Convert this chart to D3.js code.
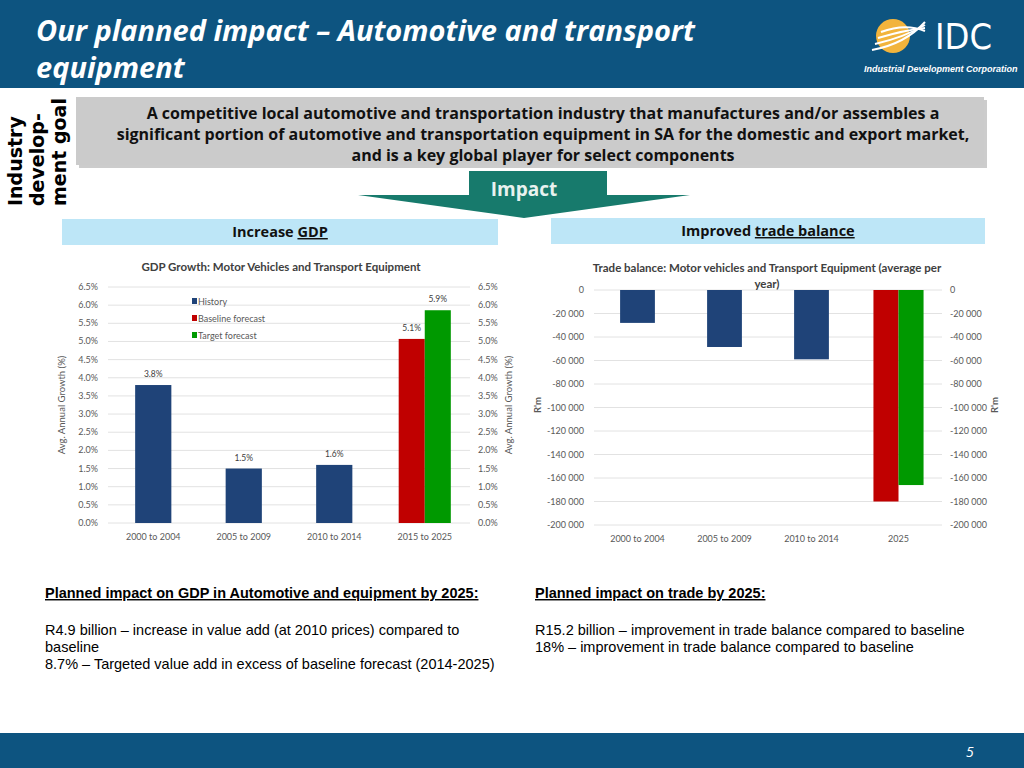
<!DOCTYPE html>
<html><head><meta charset="utf-8">
<script src="https://cdn.jsdelivr.net/npm/d3@7"></script>
<style>body{margin:0;background:#fff}svg{display:block}</style>
</head><body>
<svg id="c" width="1024" height="768"></svg>
<script>
// GDP chart data
const gdpCats = ["2000 to 2004", "2005 to 2009", "2010 to 2014", "2015 to 2025"];
const gdpHistory = [3.8, 1.5, 1.6, null];
const gdpBaseline = [null, null, null, 5.07];
const gdpTarget = [null, null, null, 5.86];
const gdpLabels = ["3.8%", "1.5%", "1.6%", "5.1%", "5.9%"];
const gdpTicks = d3.range(0, 6.51, 0.5);

// trade balance data (R'm)
const tradeCats = ["2000 to 2004", "2005 to 2009", "2010 to 2014", "2025"];
const tradeHistory = [-28000, -48500, -59000, null];
const tradeBaseline = [null, null, null, -180000];
const tradeTarget = [null, null, null, -166000];
const tradeTicks = d3.range(0, -200001, -20000);

const legendNames = ["History", "Baseline forecast", "Target forecast"];
const colors = ["#1f4378", "#c00000", "#009900"];

const svg = d3.select("#c");
const font = "Lato, 'Open Sans', sans-serif";

// header
svg.append("rect").attr("width", 1024).attr("height", 88).attr("fill", "#0d5480");
svg.append("text").attr("x", 36).attr("y", 41).attr("fill", "#fff")
  .style("font", "italic bold 29px 'Open Sans', sans-serif").text("Our planned impact – Automotive and transport");
svg.append("text").attr("x", 36).attr("y", 78).attr("fill", "#fff")
  .style("font", "italic bold 29px 'Open Sans', sans-serif").text("equipment");
// logo
svg.append("circle").attr("cx", 893).attr("cy", 36).attr("r", 17).attr("fill", "#f2b43c");
for (let i = 0; i < 4; i++) {
  svg.append("path").attr("d", `M${872+i*3},${50-i*6} Q${905},${44-i*7} ${925},${22+i*3}`)
    .attr("fill", "none").attr("stroke", "#fff").attr("stroke-width", 2);
}
svg.append("text").attr("x", 935).attr("y", 49).attr("fill", "#fff")
  .style("font", "36px 'Liberation Sans Narrow', 'DejaVu Sans Condensed', sans-serif").text("IDC");
svg.append("text").attr("x", 864).attr("y", 72).attr("fill", "#fff")
  .style("font", "italic bold 9px 'Liberation Sans Narrow', sans-serif").text("Industrial Development Corporation");

// footer
svg.append("rect").attr("y", 733).attr("width", 1024).attr("height", 35).attr("fill", "#0d5480");
svg.append("text").attr("x", 966).attr("y", 757).attr("fill", "#fff")
  .style("font", "italic 14px 'Open Sans', sans-serif").text("5");

// goal box
svg.append("rect").attr("x", 79).attr("y", 100).attr("width", 908).attr("height", 68).attr("fill", "#999").attr("opacity", 0.5);
svg.append("rect").attr("x", 76).attr("y", 97).attr("width", 908).attr("height", 68).attr("fill", "#cbcbcb");
const goal = ["A competitive local automotive and transportation industry that manufactures and/or assembles a",
  "significant portion of automotive and transportation equipment in SA  for the domestic and export market,",
  "and is a key global player for select components"];
goal.forEach((t, i) => svg.append("text").attr("x", 543).attr("y", 119 + i * 21).attr("text-anchor", "middle")
  .style("font", "bold 16px 'Open Sans', sans-serif").attr("fill", "#111").text(t));
["Industry", "develop-", "ment goal"].forEach((t, i) => svg.append("text")
  .attr("transform", `translate(${22 + i * 22},${206}) rotate(-90)`)
  .style("font", "bold 19px 'DejaVu Sans', sans-serif").attr("fill", "#000").text(t));

// arrow
svg.append("path").attr("d", "M469,171 H607 V195 H690 L524,218 L358,195 H469 Z").attr("fill", "#177a6c");
svg.append("text").attr("x", 524).attr("y", 196).attr("text-anchor", "middle").attr("fill", "#e8f2ef")
  .style("font", "bold 19px 'Open Sans', sans-serif").text("Impact");

// light blue boxes
[[62, 219, 436, "Increase ", "GDP"], [551, 218, 434, "Improved ", "trade balance"]].forEach(([x, y, w, a, b]) => {
  svg.append("rect").attr("x", x).attr("y", y).attr("width", w).attr("height", 26).attr("fill", "#bde6f7");
  const t = svg.append("text").attr("x", x + w / 2).attr("y", y + 18).attr("text-anchor", "middle")
    .style("font", "bold 14.5px 'Open Sans', sans-serif").attr("fill", "#111");
  t.append("tspan").text(a);
  t.append("tspan").attr("text-decoration", "underline").text(b);
});

function chart(cfg) {
  const g = svg.append("g");
  const x = d3.scaleBand().domain(cfg.cats).range([cfg.x0, cfg.x1]).paddingInner(0.6).paddingOuter(0.3);
  const y = d3.scaleLinear().domain(cfg.domain).range([cfg.yBottom, cfg.yTop]);
  const fmt = cfg.fmt;
  // grid
  g.selectAll(".grid").data(cfg.ticks).join("line")
    .attr("x1", cfg.x0).attr("x2", cfg.x1).attr("y1", d => y(d)).attr("y2", d => y(d))
    .attr("stroke", "#e2e2e2");
  g.selectAll(".yl").data(cfg.ticks).join("text")
    .attr("x", cfg.x0 - 10).attr("y", d => y(d) + 3).attr("text-anchor", "end")
    .style("font", `9px ${font}`).attr("fill", "#595959").text(fmt);
  g.selectAll(".yr").data(cfg.ticks).join("text")
    .attr("x", cfg.x1 + 8).attr("y", d => y(d) + 3)
    .style("font", `9px ${font}`).attr("fill", "#595959").text(fmt);
  g.selectAll(".xl").data(cfg.cats).join("text")
    .attr("x", d => x(d) + x.bandwidth() / 2).attr("y", cfg.xLabelY).attr("text-anchor", "middle")
    .style("font", `9px ${font}`).attr("fill", "#595959").text(d => d);
  const bw = x.bandwidth(), pw = bw * 0.72;
  const base = y(0);
  const bars = [];
  cfg.cats.forEach((c, i) => {
    const cx = x(c) + bw / 2;
    if (cfg.hist[i] != null) bars.push({ x: cx - bw / 2, w: bw, v: cfg.hist[i], col: colors[0] });
    if (cfg.base[i] != null) bars.push({ x: cx - pw, w: pw, v: cfg.base[i], col: colors[1] });
    if (cfg.targ[i] != null) bars.push({ x: cx, w: pw, v: cfg.targ[i], col: colors[2] });
  });
  g.selectAll(".bar").data(bars).join("rect")
    .attr("x", d => d.x).attr("width", d => d.w)
    .attr("y", d => Math.min(y(d.v), base)).attr("height", d => Math.abs(y(d.v) - base))
    .attr("fill", d => d.col);
  if (cfg.labels) {
    g.selectAll(".bl").data(bars).join("text")
      .attr("x", d => d.x + d.w / 2).attr("y", d => y(d.v) - 8).attr("text-anchor", "middle")
      .style("font", `8.5px ${font}`).attr("fill", "#404040").text((d, i) => cfg.labels[i]);
  }
  cfg.title.forEach((t, i) => g.append("text").attr("x", cfg.titleX).attr("y", cfg.titleY + i * 16)
    .attr("text-anchor", "middle").style("font", `bold 11.5px ${font}`).attr("fill", "#404040").text(t));
  [cfg.x0 - cfg.axOff, cfg.x1 + cfg.axOffR].forEach(xx => {
    g.append("text").attr("transform", `translate(${xx},${cfg.axY}) rotate(-90)`).attr("text-anchor", "middle")
      .style("font", `${cfg.axBold ? "bold " : ""}9.5px ${font}`).attr("fill", "#595959").text(cfg.axTitle);
  });
  return x;
}

chart({
  cats: gdpCats, hist: gdpHistory, base: gdpBaseline, targ: gdpTarget, labels: gdpLabels,
  x0: 108, x1: 470, yTop: 287, yBottom: 523, domain: [0, 6.5], ticks: gdpTicks,
  fmt: d => d.toFixed(1) + "%", xLabelY: 540, title: ["GDP Growth: Motor Vehicles and Transport Equipment"],
  titleX: 281, titleY: 271, axTitle: "Avg. Annual Growth (%)", axOff: 43, axOffR: 42, axY: 405
});
chart({
  cats: tradeCats, hist: tradeHistory, base: tradeBaseline, targ: tradeTarget, labels: null,
  x0: 594, x1: 942, yTop: 290, yBottom: 525, domain: [-200000, 0], ticks: tradeTicks,
  fmt: d => d3.format(",")(d).replace(/,/g, " ").replace("−", "-"), xLabelY: 542,
  title: ["Trade balance: Motor vehicles and Transport Equipment (average per", "year)"],
  titleX: 767, titleY: 272, axTitle: "R'm", axOff: 53, axOffR: 56, axY: 405, axBold: true
});

// legend (GDP chart)
legendNames.forEach((n, i) => {
  svg.append("rect").attr("x", 192).attr("y", 298 + i * 17).attr("width", 5).attr("height", 6).attr("fill", colors[i]);
  svg.append("text").attr("x", 198).attr("y", 305 + i * 17).style("font", `9px ${font}`).attr("fill", "#595959").text(n);
});

// bottom text
const bt = "14.5px 'Liberation Sans', Arial, sans-serif";
function txt(x, y, t, u) {
  const e = svg.append("text").attr("x", x).attr("y", y).style("font", (u ? "bold " : "") + bt).attr("fill", "#000").text(t);
  if (u) e.attr("text-decoration", "underline");
}
txt(45, 598, "Planned impact on GDP in Automotive and equipment by 2025:", true);
txt(45, 635, "R4.9 billion – increase in value add (at 2010 prices) compared to");
txt(45, 652, "baseline");
txt(45, 669, "8.7% – Targeted value add in excess of baseline forecast (2014-2025)");
txt(535, 598, "Planned impact on trade by 2025:", true);
txt(535, 635, "R15.2 billion – improvement in trade balance compared to baseline");
txt(535, 652, "18% – improvement in trade balance compared to baseline");
</script>
</body></html>
